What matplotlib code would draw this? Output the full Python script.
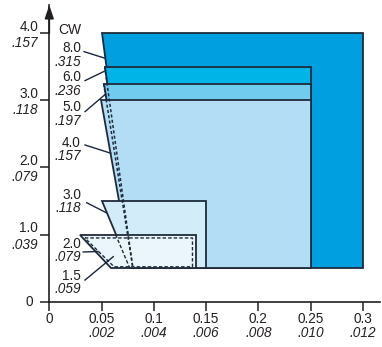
import matplotlib.pyplot as plt
from matplotlib.patches import Polygon

plt.rcParams['font.family'] = ['Liberation Sans', 'DejaVu Sans']

# x: feed (mm/rev, inch/rev), y: depth of cut (mm, inch)
feed_ticks = [0, 0.05, 0.1, 0.15, 0.2, 0.25, 0.3]
feed_mm = ['0', '0.05', '0.1', '0.15', '0.2', '0.25', '0.3']
feed_in = ['', '.002', '.004', '.006', '.008', '.010', '.012']
doc_ticks = [0, 1, 2, 3, 4]
doc_mm = ['0', '1.0', '2.0', '3.0', '4.0']
doc_in = ['', '.039', '.079', '.118', '.157']

# cutting width (CW) areas
cw_mm = ['8.0', '6.0', '5.0', '4.0', '3.0', '2.0', '1.5']
cw_in = ['.315', '.236', '.197', '.157', '.118', '.079', '.059']
max_doc = [4.0, 3.5, 3.25, 3.0, 1.5, 1.0, 0.95]
feed_at_max_doc = [0.05, 0.053, 0.052, 0.0497, 0.05, 0.029, 0.034]
max_feed = [0.30, 0.25, 0.25, 0.25, 0.15, 0.14, 0.137]
min_doc = [0.5, 0.5, 0.5, 0.5, 0.5, 0.5, 0.52]
feed_at_min_doc = [0.08, 0.08, 0.08, 0.078, 0.077, 0.059, 0.062]

fills = ['#009fe0', '#00b4e8', '#70cbef', '#b2ddf4', '#d3ecf9', '#eaf5fc', 'none']
edge = '#1f2b3a'
txt = '#231f20'

fig = plt.figure(figsize=(3.82, 3.47), dpi=100)
ax = fig.add_axes([0.129, 0.1305, 0.866, 0.855])
ax.set_xlim(0, 0.3165)
ax.set_ylim(0, 4.42)

for i in range(len(cw_mm)):
    pts = [(feed_at_max_doc[i], max_doc[i]), (max_feed[i], max_doc[i]),
           (max_feed[i], min_doc[i]), (feed_at_min_doc[i], min_doc[i])]
    if fills[i] == 'none':
        ax.add_patch(Polygon(pts, closed=True, facecolor='none', edgecolor=edge,
                             lw=1.0, ls=(0, (2.5, 1.5)), zorder=5))
    else:
        ax.add_patch(Polygon(pts, closed=True, facecolor=fills[i], edgecolor=edge,
                             lw=1.3, zorder=2 + i * 0.1))

# hidden left edges of CW 6.0 and 5.0
for i in [1, 2]:
    ax.plot([feed_at_max_doc[i], feed_at_min_doc[i]], [max_doc[i], min_doc[i]],
            color=edge, lw=1.1, ls=(0, (2, 1.5)), zorder=4)
# hidden part of CW 3.0 edge under CW 2.0
i = 4
t = (max_doc[i] - max_doc[5]) / (max_doc[i] - min_doc[i])
x_mid = feed_at_max_doc[i] + t * (feed_at_min_doc[i] - feed_at_max_doc[i])
ax.plot([x_mid, feed_at_min_doc[i]], [max_doc[5], min_doc[i]],
        color=edge, lw=1.0, ls=(0, (2.5, 1.5)), zorder=4)

# labels with leader lines
label_y = [3.776, 3.344, 2.897, 2.370, 1.590, 0.860, 0.383]
leader_from = [(0.0332, 3.726), (0.0342, 3.294), (0.0342, 2.832), (0.0342, 2.335),
               (0.0358, 1.475), (0.0325, 0.741), (0.0342, 0.323)]
leader_to = [(0.0534, 3.627), (0.0533, 3.438), (0.0540, 3.095), (0.0588, 2.212),
             (0.0545, 1.326), (0.0466, 0.748), (0.0612, 0.671)]
lab_x = 0.0303
ax.text(lab_x, 4.05, 'CW', ha='right', va='center', fontsize=10, color=txt)
for i in range(len(cw_mm)):
    ax.text(lab_x, label_y[i], cw_mm[i], ha='right', va='center', fontsize=9.8, color=txt)
    ax.text(lab_x, label_y[i] - 0.2, cw_in[i], ha='right', va='center', fontsize=9.8,
            style='italic', color=txt)
    ax.plot([leader_from[i][0], leader_to[i][0]], [leader_from[i][1], leader_to[i][1]],
            color='#1a2540', lw=1.0, zorder=6)

# axes
for s in ['top', 'right']:
    ax.spines[s].set_visible(False)
for s in ['left', 'bottom']:
    ax.spines[s].set_linewidth(1.2)
    ax.spines[s].set_color(txt)
ax.set_xticks(feed_ticks)
ax.set_yticks(doc_ticks)
ax.tick_params(direction='out', length=6.2, width=1.1, color=txt,
               labelbottom=False, labelleft=False)
ax.annotate('', xy=(0, 4.42), xytext=(0, 4.0), annotation_clip=False,
            arrowprops=dict(arrowstyle='-|>,head_length=0.8,head_width=0.27',
                            mutation_scale=10, color=txt, lw=1.2,
                            shrinkA=0, shrinkB=0))

for x, a, b in zip(feed_ticks, feed_mm, feed_in):
    ax.annotate(a, xy=(x, 0), xycoords=('data', 'axes fraction'), xytext=(0, -12.7),
                textcoords='offset points', ha='center', va='center', fontsize=9.8, color=txt)
    ax.annotate(b, xy=(x, 0), xycoords=('data', 'axes fraction'), xytext=(0, -22.3),
                textcoords='offset points', ha='center', va='center', fontsize=9.8,
                style='italic', color=txt)
for y, a, b in zip(doc_ticks, doc_mm, doc_in):
    if b == '':
        ax.annotate(a, xy=(0, y), xycoords=('axes fraction', 'data'), xytext=(-11.7, 0),
                    textcoords='offset points', ha='right', va='center', fontsize=9.8, color=txt)
        continue
    ax.annotate(a, xy=(0, y), xycoords=('axes fraction', 'data'), xytext=(-8.1, 4.8),
                textcoords='offset points', ha='right', va='center', fontsize=9.8, color=txt)
    ax.annotate(b, xy=(0, y), xycoords=('axes fraction', 'data'), xytext=(-8.1, -7.2),
                textcoords='offset points', ha='right', va='center', fontsize=9.8,
                style='italic', color=txt)

fig.savefig('out.png', dpi=100)
